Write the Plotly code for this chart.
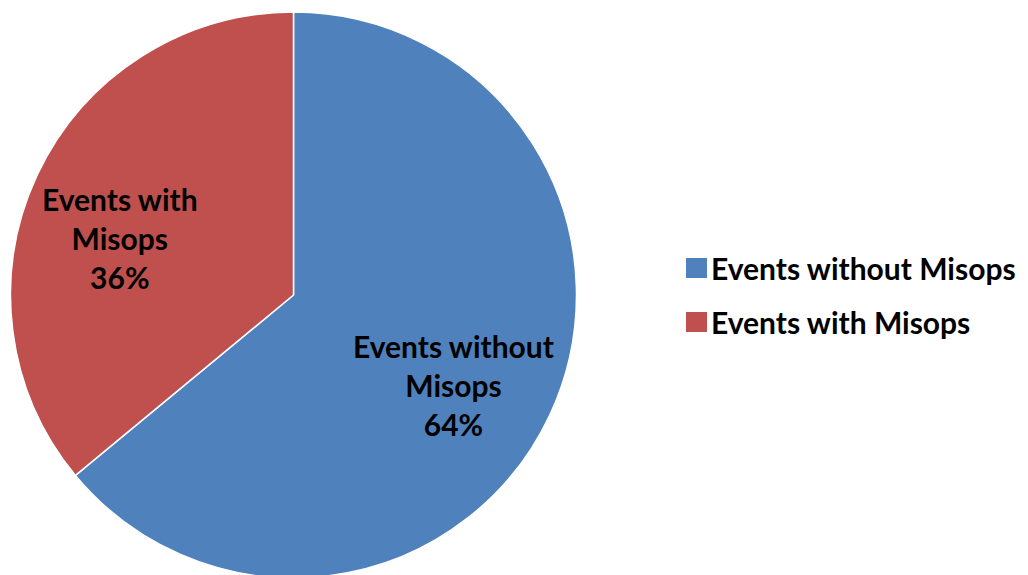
import plotly.graph_objects as go

labels = ['Events without Misops', 'Events with Misops']
values = [64, 36]
colors = ['#4F81BD', '#C0504D']
# label text split the way the slide wraps it
slice_text = ['Events without<br>Misops', 'Events with<br>Misops']

font = 'Lato, Open Sans, sans-serif'
W, H = 1028, 575


def px(x):
    return x / W


def py(y):
    return 1 - y / H


fig = go.Figure()
fig.add_trace(go.Pie(
    labels=labels, values=values, sort=False, direction='clockwise', rotation=0,
    marker=dict(colors=colors, line=dict(color='white', width=1.5)),
    text=slice_text, textinfo='none', hoverinfo='label+percent',
    domain=dict(x=[px(0.5), px(570.5)], y=[0.0087, 0.993]),
    showlegend=False,
))

# data labels placed like the original chart
label_pos = [(445, 377), (112, 230)]
total = sum(values)
for txt, v, (x, y) in zip(slice_text, values, label_pos):
    fig.add_annotation(
        x=px(x), y=py(y), xref='paper', yref='paper', showarrow=False,
        xanchor='center', yanchor='middle',
        text='<b>%s<br>%d%%</b>' % (txt, round(100 * v / total)),
        font=dict(family=font, size=30, color='black'), align='center',
    )

# legend drawn by hand so the swatches are as big as in the original
legend_y = [260, 314]
for lab, col, y in zip(labels, colors, legend_y):
    fig.add_shape(type='rect', xref='paper', yref='paper',
                  x0=px(678), x1=px(699), y0=py(y - 10), y1=py(y + 10),
                  fillcolor=col, line=dict(width=0))
    fig.add_annotation(
        x=px(701), y=py(y), xref='paper', yref='paper', showarrow=False,
        xanchor='left', yanchor='middle', text='<b>%s</b>' % lab,
        font=dict(family=font, size=30, color='black'),
    )

fig.update_layout(
    width=W, height=H, margin=dict(l=0, r=0, t=0, b=0),
    paper_bgcolor='white', plot_bgcolor='white',
)

fig.write_html('out.html')
